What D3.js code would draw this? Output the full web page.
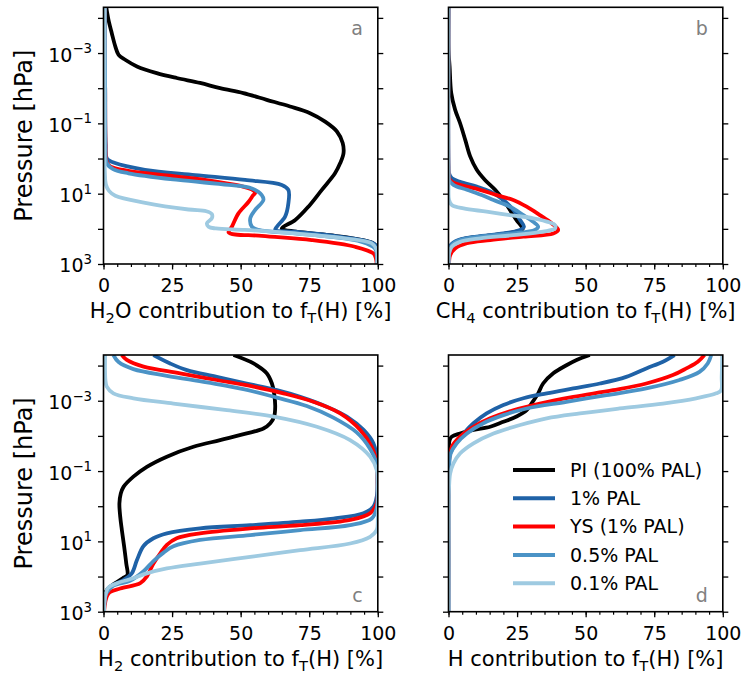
<!DOCTYPE html>
<html>
<head>
<meta charset="utf-8">
<script src="https://cdn.jsdelivr.net/npm/d3@7"></script>
<style>
  body { margin: 0; background: #fff; }
  text { font-family: "DejaVu Sans", sans-serif; }
</style>
</head>
<body>
<div id="chart"></div>
<script>
// Each profile is a list of [contribution %, log10(pressure / hPa)], top of atmosphere first

// panel a: H2O
var h2oPI = [[1.0,-4.31],[1.8,-3.95],[3.0,-3.57],[4.3,-3.19],[5.5,-2.95],[7.9,-2.81],[12.2,-2.62],[19.4,-2.43],[26.7,-2.29],[35.2,-2.15],[42.5,-2.0],[51.0,-1.86],[59.5,-1.67],[68.0,-1.48],[75.3,-1.29],[80.8,-1.05],[85.1,-0.77],[87.2,-0.44],[87.5,-0.15],[86.3,0.13],[84.4,0.42],[79.6,0.89],[74.7,1.37],[69.9,1.75],[65.0,1.99],[70.2,2.08],[82.3,2.18],[94.4,2.32],[99.1,2.46],[99.7,2.84],[99.8,3.0]];
var h2oPAL1 = [[0.5,-4.31],[0.6,-2.0],[0.8,-0.4],[1.2,-0.01],[4.2,0.13],[15.1,0.32],[33.4,0.47],[51.6,0.61],[65.0,0.75],[67.4,0.89],[67.4,1.27],[66.2,1.65],[63.2,1.94],[62.6,2.03],[69.9,2.08],[82.0,2.18],[94.2,2.32],[99.1,2.46],[99.7,2.84],[99.8,3.0]];
var h2oYS = [[0.5,-4.31],[0.6,-2.0],[0.8,-0.2],[1.2,0.1],[2.4,0.22],[9.0,0.35],[24.0,0.49],[40.0,0.64],[50.0,0.78],[54.0,0.88],[55.3,0.97],[54.5,1.05],[52.9,1.23],[49.2,1.56],[46.8,1.94],[45.6,2.1],[57.7,2.2],[75.9,2.32],[91.7,2.51],[98.4,2.7],[99.3,2.84],[99.6,3.0]];
var h2oPAL05 = [[0.5,-4.31],[0.6,-2.0],[0.7,-0.3],[1.2,0.13],[3.5,0.3],[9.1,0.42],[27.3,0.61],[45.6,0.75],[54.1,0.85],[57.7,1.04],[58.3,1.18],[55.3,1.46],[53.5,1.7],[54.1,1.94],[56.5,2.03],[69.9,2.13],[82.0,2.22],[94.2,2.37],[99.0,2.56],[99.7,2.84],[99.8,3.0]];
var h2oPAL01 = [[0.4,-4.31],[0.4,-1.0],[0.5,0.4],[0.9,0.75],[2.0,0.92],[4.3,1.06],[15.2,1.26],[31.0,1.45],[37.5,1.5],[39.5,1.58],[39.5,1.7],[37.7,1.84],[38.3,1.94],[41.0,1.99],[51.6,2.03],[69.9,2.13],[88.1,2.27],[97.8,2.41],[99.6,2.6],[99.8,3.0]];

// panel b: CH4
var ch4PI = [[0,-4.31],[0,-3.09],[0.4,-2.62],[1.0,-1.86],[2.4,-1.39],[4.2,-1.01],[6.1,-0.53],[7.9,-0.06],[10.3,0.32],[13.3,0.61],[17.0,0.89],[20.0,1.18],[22.4,1.46],[24.8,1.75],[26.7,1.94],[27.0,2.01],[21.2,2.13],[11.5,2.22],[4.2,2.32],[1.2,2.51],[0.4,2.7],[0.1,3.0]];
var ch4PAL1 = [[0,-4.31],[0,0.2],[0.2,0.42],[1.2,0.56],[4.2,0.66],[10.3,0.8],[15.2,0.94],[20.0,1.18],[23.6,1.46],[26.1,1.75],[27.5,1.94],[26.1,2.03],[20.0,2.13],[10.3,2.22],[3.6,2.32],[0.8,2.46],[0.2,2.7],[0.1,3.0]];
var ch4YS = [[0,-4.31],[0,0.3],[0.2,0.56],[1.2,0.66],[4.2,0.75],[11.5,0.89],[17.6,1.04],[23.6,1.18],[28.5,1.37],[33.3,1.61],[37.6,1.84],[40.0,2.03],[38.2,2.13],[27.3,2.22],[15.2,2.32],[6.7,2.41],[2.4,2.56],[0.6,2.75],[0.2,3.0]];
var ch4PAL05 = [[0,-4.31],[0,0.3],[0.2,0.61],[1.8,0.75],[6.7,0.89],[12.1,1.04],[16.4,1.18],[22.4,1.37],[27.3,1.61],[30.9,1.8],[32.7,1.94],[31.5,2.03],[23.6,2.13],[11.5,2.22],[4.2,2.32],[1.2,2.46],[0.2,2.7],[0.1,3.0]];
var ch4PAL01 = [[0,-4.31],[0,0.8],[0.2,1.18],[1.2,1.32],[5.5,1.42],[13.9,1.51],[22.4,1.61],[30.9,1.7],[37.0,1.82],[38.8,1.89],[38.8,1.99],[34.5,2.08],[23.6,2.18],[11.5,2.27],[4.2,2.37],[1.2,2.51],[0.2,2.7],[0.1,3.0]];

// panel c: H2
var h2PI = [[47.4,-4.3],[54.7,-4.06],[59.5,-3.78],[61.4,-3.49],[62.2,-3.21],[62.6,-2.83],[62.2,-2.55],[60.8,-2.36],[58.3,-2.21],[52.2,-2.07],[42.5,-1.88],[32.8,-1.69],[23.1,-1.41],[15.8,-1.12],[10.9,-0.84],[7.3,-0.55],[6.3,-0.36],[5.8,-0.08],[6.1,0.3],[6.7,0.68],[7.5,1.13],[8.3,1.63],[8.7,1.96],[7.0,2.05],[4.0,2.2],[1.5,2.35],[0.5,2.5],[0.2,3.0]];
var h2PAL1 = [[18.2,-4.3],[24.3,-4.06],[30.4,-3.87],[41.3,-3.68],[52.2,-3.49],[63.2,-3.3],[71.7,-3.11],[81.4,-2.83],[88.7,-2.55],[94.8,-2.17],[98.4,-1.79],[99.6,-1.41],[99.9,-0.93],[99.6,-0.27],[98.4,0.01],[94.8,0.2],[83.8,0.35],[71.7,0.44],[53.5,0.54],[35.2,0.63],[23.1,0.77],[18.2,0.91],[14.6,1.13],[12.2,1.53],[10.3,1.91],[7.3,2.1],[2.4,2.29],[0.6,2.57],[0.2,3.0]];
var h2YS = [[6.7,-4.3],[8.5,-4.16],[14.6,-3.97],[27.9,-3.78],[41.3,-3.59],[54.7,-3.4],[65.6,-3.21],[76.5,-2.97],[86.3,-2.64],[93.6,-2.17],[97.8,-1.69],[99.6,-1.22],[99.9,-0.74],[99.6,-0.08],[97.2,0.2],[89.9,0.39],[71.7,0.54],[53.5,0.63],[35.2,0.77],[26.7,0.91],[23.1,1.1],[20.7,1.34],[18.2,1.63],[15.8,2.0],[13.4,2.19],[6.1,2.34],[1.8,2.48],[0.2,3.0]];
var h2PAL05 = [[3.6,-4.3],[5.5,-4.1],[10.9,-3.9],[23.1,-3.71],[37.7,-3.52],[51.0,-3.33],[63.2,-3.09],[74.1,-2.85],[83.8,-2.52],[92.3,-2.1],[97.2,-1.63],[99.6,-1.2],[99.9,-0.74],[99.6,0.05],[97.8,0.35],[89.9,0.54],[71.7,0.68],[53.5,0.82],[35.2,0.96],[25.5,1.14],[21.9,1.32],[18.2,1.56],[14.6,1.85],[9.7,2.12],[3.6,2.26],[1.0,2.48],[0.2,3.0]];
var h2PAL01 = [[0.6,-4.3],[0.7,-3.59],[1.2,-3.4],[3.6,-3.21],[10.9,-3.07],[25.5,-2.92],[45.0,-2.73],[62.0,-2.55],[77.8,-2.26],[89.9,-1.88],[97.2,-1.41],[99.6,-1.03],[100,-0.55],[100,0.39],[99.6,0.68],[97.2,0.87],[89.9,1.06],[71.7,1.25],[53.5,1.44],[35.2,1.63],[23.1,1.77],[15.8,1.91],[10.9,2.05],[4.9,2.19],[1.5,2.34],[0.2,3.0]];

// panel d: H
var hPI = [[51.5,-4.3],[46.7,-4.16],[43.0,-4.01],[38.2,-3.78],[34.5,-3.49],[32.7,-3.21],[30.7,-2.97],[28.5,-2.73],[24.8,-2.55],[20.0,-2.4],[15.2,-2.26],[9.1,-2.17],[4.2,-2.07],[1.2,-1.98],[0.4,-1.88],[0.1,-1.5],[0.1,3.0]];
var hPAL1 = [[82.4,-4.3],[78.2,-4.11],[72.1,-3.92],[64.8,-3.68],[55.2,-3.49],[45.5,-3.35],[35.8,-3.21],[27.3,-3.07],[20.0,-2.88],[13.9,-2.64],[9.1,-2.36],[5.5,-2.07],[1.8,-1.69],[0.3,-1.41],[0.1,-1.2],[0.1,3.0]];
var hYS = [[93.3,-4.3],[90.9,-4.11],[86.7,-3.92],[81.8,-3.73],[72.1,-3.49],[60.0,-3.3],[45.5,-3.11],[33.3,-2.92],[23.6,-2.73],[15.2,-2.5],[9.1,-2.26],[4.2,-1.98],[1.2,-1.69],[0.3,-1.36],[0.1,-1.2],[0.1,3.0]];
var hPAL05 = [[95.8,-4.3],[94.5,-4.06],[91.5,-3.82],[84.2,-3.59],[72.1,-3.35],[57.6,-3.16],[43.0,-2.97],[28.5,-2.78],[20.0,-2.59],[12.7,-2.36],[6.7,-2.07],[3.0,-1.79],[0.8,-1.5],[0.3,-1.22],[0.1,-1.0],[0.1,3.0]];
var hPAL01 = [[99.8,-4.3],[99.6,-3.68],[99.4,-3.3],[97.6,-3.21],[90.3,-3.07],[78.2,-2.92],[62.4,-2.78],[47.9,-2.64],[35.8,-2.5],[26.1,-2.31],[16.4,-2.07],[9.1,-1.79],[4.2,-1.5],[1.8,-1.22],[0.6,-0.93],[0.2,-0.55],[0.1,-0.3],[0.1,3.0]];

var seriesNames = ["PI (100% PAL)", "1% PAL", "YS (1% PAL)", "0.5% PAL", "0.1% PAL"];
var seriesColors = ["#000000", "#1f62a7", "#ff0000", "#4b93c6", "#9ecae1"];
var xTicks = [0, 25, 50, 75, 100];
var xMinorTicks = d3.range(0, 101, 5);
var yTickExps = [-4, -3, -2, -1, 0, 1, 2, 3];
var yLabelExps = [-3, -1, 1, 3];
var pressureTop = 5e-5, pressureBottom = 1000;

// x label pieces: [text, is subscript]
var xLabelH2O = [["H", 0], ["2", 1], ["O contribution to f", 0], ["T", 1], ["(H) [%]", 0]];
var xLabelCH4 = [["CH", 0], ["4", 1], [" contribution to f", 0], ["T", 1], ["(H) [%]", 0]];
var xLabelH2 = [["H", 0], ["2", 1], [" contribution to f", 0], ["T", 1], ["(H) [%]", 0]];
var xLabelH = [["H contribution to f", 0], ["T", 1], ["(H) [%]", 0]];

var panels = [
  { series: [h2oPI, h2oPAL1, h2oYS, h2oPAL05, h2oPAL01], xLabel: xLabelH2O, letter: "a", col: 0, row: 0 },
  { series: [ch4PI, ch4PAL1, ch4YS, ch4PAL05, ch4PAL01], xLabel: xLabelCH4, letter: "b", col: 1, row: 0 },
  { series: [h2PI, h2PAL1, h2YS, h2PAL05, h2PAL01], xLabel: xLabelH2, letter: "c", col: 0, row: 1 },
  { series: [hPI, hPAL1, hYS, hPAL05, hPAL01], xLabel: xLabelH, letter: "d", col: 1, row: 1 }
];

// layout
var svgWidth = 743, svgHeight = 673;
var colLeft = [103.5, 448.5];
var rowTop = [7.3, 355];
var panelWidth = 274.3, panelHeight = 256.7;

var svg = d3.select("#chart").append("svg")
  .attr("width", svgWidth)
  .attr("height", svgHeight);

var x = d3.scaleLinear().domain([0, 100]).range([0, panelWidth]);
var y = d3.scaleLog().domain([pressureTop, pressureBottom]).range([0, panelHeight]);

var line = d3.line()
  .x(d => x(d[0]))
  .y(d => y(Math.pow(10, d[1])))
  .curve(d3.curveCatmullRom.alpha(0.5));

svg.append("defs").append("clipPath").attr("id", "plotClip")
  .append("rect").attr("width", panelWidth).attr("height", panelHeight);

function labelParts(sel, parts) {
  parts.forEach(function(p, i) {
    var prevSub = i > 0 && parts[i - 1][1];
    var t = sel.append("tspan").text(p[0]);
    if (p[1]) t.attr("font-size", "0.7em").attr("dy", "0.3em");
    else if (prevSub) t.attr("dy", "-0.21em");
  });
}

panels.forEach(function(panel) {
  var g = svg.append("g")
    .attr("transform", `translate(${colLeft[panel.col]}, ${rowTop[panel.row]})`);

  // profiles
  var lines = g.append("g").attr("clip-path", "url(#plotClip)");
  panel.series.forEach(function(s, i) {
    lines.append("path")
      .datum(s)
      .attr("fill", "none")
      .attr("stroke", seriesColors[i])
      .attr("stroke-width", 3.8)
      .attr("stroke-linejoin", "round")
      .attr("d", line);
  });

  // x axis (major + minor)
  var xMinor = g.append("g")
    .attr("transform", `translate(0, ${panelHeight})`)
    .call(d3.axisBottom(x).tickValues(xMinorTicks).tickSize(3).tickFormat(""));
  xMinor.select(".domain").remove();
  xMinor.selectAll("line").attr("stroke-width", 1.2);

  var xAxis = g.append("g")
    .attr("transform", `translate(0, ${panelHeight})`)
    .call(d3.axisBottom(x).tickValues(xTicks).tickSize(5.5).tickPadding(9).tickFormat(d3.format("d")));
  xAxis.select(".domain").remove();
  xAxis.selectAll("line").attr("stroke-width", 1.3);
  xAxis.selectAll("text").attr("font-size", 19).attr("fill", "#000")
    .style("font-family", "'DejaVu Sans', sans-serif");

  // y axes, left and right
  var yVals = yTickExps.map(e => Math.pow(10, e));
  var yLeft = g.append("g")
    .call(d3.axisLeft(y).tickValues(yVals).tickSize(5.5).tickPadding(6).tickFormat(""));
  yLeft.select(".domain").remove();
  yLeft.selectAll("line").attr("stroke-width", 1.3);

  var yRight = g.append("g")
    .attr("transform", `translate(${panelWidth}, 0)`)
    .call(d3.axisRight(y).tickValues(yVals).tickSize(5.5).tickFormat(""));
  yRight.select(".domain").remove();
  yRight.selectAll("line").attr("stroke-width", 1.3);

  if (panel.col === 0) {
    yLeft.selectAll(".tick text").each(function(d) {
      var e = Math.round(Math.log10(d));
      if (yLabelExps.indexOf(e) < 0) return;
      var t = d3.select(this)
        .attr("font-size", 19).attr("fill", "#000").attr("dy", "0.42em")
        .style("font-family", "'DejaVu Sans', sans-serif");
      t.append("tspan").text("10");
      t.append("tspan").attr("font-size", "0.7em").attr("dy", "-0.65em")
        .text(e < 0 ? "\u2212" + (-e) : String(e));
    });

    g.append("text")
      .attr("transform", `translate(-71.5, ${panelHeight / 2}) rotate(-90)`)
      .attr("text-anchor", "middle")
      .attr("font-size", 24)
      .text("Pressure [hPa]");
  }

  // x label
  var xl = g.append("text")
    .attr("x", panelWidth / 2)
    .attr("y", panelHeight + 54.5)
    .attr("text-anchor", "middle")
    .attr("font-size", 21);
  labelParts(xl, panel.xLabel);

  // frame
  g.append("rect")
    .attr("width", panelWidth)
    .attr("height", panelHeight)
    .attr("fill", "none")
    .attr("stroke", "#000")
    .attr("stroke-width", 1.6);

  // panel letter
  g.append("text")
    .attr("x", panelWidth - 15)
    .attr("y", panel.row === 0 ? 28 : panelHeight - 10)
    .attr("text-anchor", "end")
    .attr("font-size", 19)
    .attr("fill", "#808080")
    .text(panel.letter);

  // legend in panel d
  if (panel.letter === "d") {
    var legend = g.append("g").attr("transform", "translate(64.5, 115)");
    seriesNames.forEach(function(name, i) {
      var row = legend.append("g").attr("transform", `translate(0, ${i * 28.3})`);
      row.append("line")
        .attr("x1", 0).attr("x2", 42)
        .attr("stroke", seriesColors[i])
        .attr("stroke-width", 4);
      row.append("text")
        .attr("x", 57)
        .attr("dy", "0.36em")
        .attr("font-size", 19)
        .text(name);
    });
  }
});
</script>
</body>
</html>
